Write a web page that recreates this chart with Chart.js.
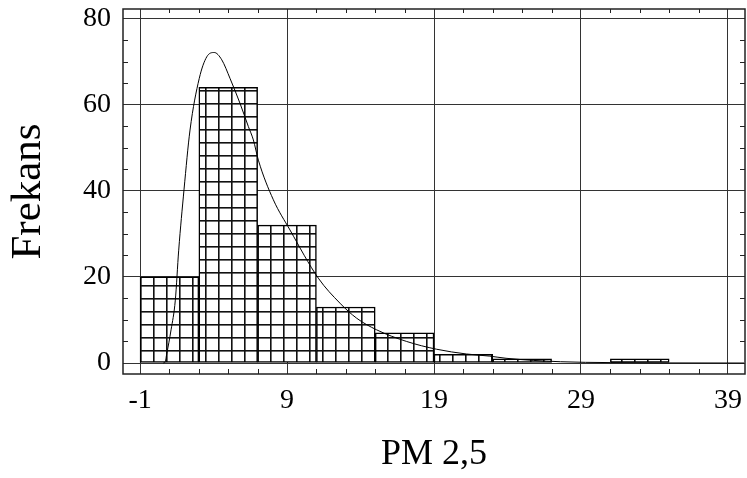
<!DOCTYPE html>
<html>
<head>
<meta charset="utf-8">
<script src="https://cdn.jsdelivr.net/npm/chart.js@4.4.0/dist/chart.umd.min.js"></script>
<style>
    body { margin: 0; background: #fff; }
    #wrap { width: 747px; height: 478px; }
</style>
</head>
<body>
<div id="wrap"><canvas id="myChart"></canvas></div>
<script>
// histogram classes (centre of each 4 unit wide class) and their counts
const binCenters = [1, 5, 9, 13, 17, 21, 25, 29, 33, 37];
const binCounts = [20, 64, 32, 13, 7, 2, 1, 0, 1, 0];
// fitted density curve
const curveX = [0.58, 0.7, 0.82, 1.11, 1.4, 1.63, 1.99, 2.4, 3.03, 3.54, 4.05, 4.56, 5.12, 5.8, 6.37, 6.71, 7.05, 8.07, 9.2, 11.13, 12.6, 13.74, 15.1, 17.14, 19.18, 21.2, 22.8, 23.9, 27.6, 31, 35, 40.1];
const curveY = [0, 0.2, 2.2, 7.7, 14.6, 26.2, 40.2, 54.1, 66.1, 71.1, 72.1, 70.4, 66.1, 60.3, 54.9, 51.8, 47.1, 37.9, 30.9, 19.7, 13.9, 10.4, 7.7, 5.0, 3.2, 2.1, 1.6, 1.1, 0.3, 0.1, 0.02, 0];
// axis ticks
const xTickValues = [-1, 9, 19, 29, 39];
const yTickValues = [0, 20, 40, 60, 80];
const xMinorTicks = [1, 3, 5, 7, 11, 13, 15, 17, 21, 23, 25, 27, 31, 33, 35, 37];
const yMinorTicks = [5, 10, 15, 25, 30, 35, 45, 50, 55, 65, 70, 75];

const serif = "'Liberation Serif', 'Times New Roman', serif";

// kareli dolgu deseni
function makeGridPattern(ctx) {
    const c = document.createElement('canvas');
    c.width = 13;
    c.height = 13;
    const g = c.getContext('2d');
    g.fillStyle = '#fff';
    g.fillRect(0, 0, 13, 13);
    g.fillStyle = '#111';
    g.fillRect(0, 0, 1.6, 13);
    g.fillRect(0, 0, 13, 1.6);
    const p = ctx.createPattern(c, 'repeat');
    p.setTransform(new DOMMatrix([1, 0, 0, 1, 10, 12]));
    return p;
}

// etiketlerin eklediği kenar boşluklarını kaldır
function noLabelPadding(scale) {
    scale.paddingTop = 0;
    scale.paddingBottom = 0;
    scale.paddingLeft = 0;
    scale.paddingRight = 0;
}

// çerçeve ve ara çentikler
const frameAndTicks = {
    id: 'frameAndTicks',
    afterDraw(chart) {
        const ctx = chart.ctx;
        const a = chart.chartArea;
        const x = chart.scales.x;
        const y = chart.scales.y;
        ctx.save();
        ctx.strokeStyle = '#222';
        ctx.lineWidth = 1.5;
        ctx.strokeRect(a.left, a.top, a.right - a.left, a.bottom - a.top);
        ctx.lineWidth = 1;
        ctx.beginPath();
        xMinorTicks.forEach(v => {
            const px = Math.round(x.getPixelForValue(v)) + 0.5;
            ctx.moveTo(px, a.bottom);
            ctx.lineTo(px, a.bottom - 5);
            ctx.moveTo(px, a.top);
            ctx.lineTo(px, a.top + 4);
        });
        yMinorTicks.forEach(v => {
            const py = Math.round(y.getPixelForValue(v)) + 0.5;
            ctx.moveTo(a.left, py);
            ctx.lineTo(a.left + 5, py);
            ctx.moveTo(a.right, py);
            ctx.lineTo(a.right - 5, py);
        });
        ctx.stroke();
        ctx.restore();
    }
};

const ctx = document.getElementById('myChart').getContext('2d');
const myChart = new Chart(ctx, {
    type: 'bar',
    data: {
        datasets: [{
            type: 'line',
            data: curveX.map((v, i) => ({ x: v, y: curveY[i] })),
            borderColor: '#000',
            borderWidth: 1,
            pointRadius: 0,
            cubicInterpolationMode: 'monotone',
            order: 0
        }, {
            type: 'bar',
            data: binCenters.map((v, i) => ({ x: v, y: binCounts[i] })),
            backgroundColor: makeGridPattern(ctx),
            borderColor: '#000',
            borderWidth: 1.5,
            borderSkipped: false,
            barPercentage: 1,
            categoryPercentage: 1,
            order: 1
        }]
    },
    options: {
        responsive: true,
        maintainAspectRatio: false,
        animation: false,
        layout: { padding: { top: 9, right: 2, left: 0, bottom: 0 } },
        plugins: {
            legend: { display: false },
            tooltip: { enabled: false }
        },
        scales: {
            x: {
                type: 'linear',
                min: -2.16,
                max: 40.16,
                offset: false,
                afterBuildTicks: scale => { scale.ticks = xTickValues.map(v => ({ value: v })); },
                afterFit: scale => { scale.height = 104; noLabelPadding(scale); },
                grid: { offset: false, color: '#333', lineWidth: 1, drawTicks: false },
                border: { display: false },
                ticks: {
                    padding: 10,
                    color: '#000',
                    font: { family: serif, size: 28 },
                    maxRotation: 0,
                    autoSkip: false
                },
                title: {
                    display: true,
                    text: 'PM 2,5',
                    color: '#000',
                    font: { family: serif, size: 36 },
                    padding: { top: 0, bottom: 2 }
                }
            },
            y: {
                min: -2.55,
                max: 82.2,
                afterBuildTicks: scale => { scale.ticks = yTickValues.map(v => ({ value: v })); },
                afterFit: scale => { scale.width = 123; noLabelPadding(scale); },
                grid: { color: '#333', lineWidth: 1, drawTicks: false },
                border: { display: false },
                ticks: {
                    padding: 12,
                    color: '#000',
                    font: { family: serif, size: 28 }
                },
                title: {
                    display: true,
                    text: 'Frekans',
                    color: '#000',
                    font: { family: serif, size: 43 },
                    padding: { top: 3, bottom: 0 }
                }
            }
        }
    },
    plugins: [frameAndTicks]
});
</script>
</body>
</html>
